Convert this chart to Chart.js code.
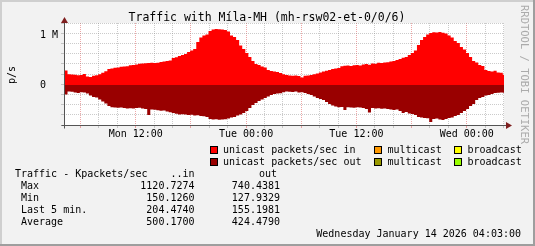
<!DOCTYPE html>
<html>
<head>
<meta charset="utf-8">
<title>Traffic with Míla-MH</title>
<script src="https://cdn.jsdelivr.net/npm/chart.js"></script>
<style>
  html, body { margin: 0; padding: 0; background: #f2f2f2; }
  canvas { display: block; }
</style>
</head>
<body>
<canvas id="traffic" width="535" height="246"></canvas>
<script>
const chartTitle = 'Traffic with Míla-MH (mh-rsw02-et-0/0/6)';

// time axis, in hours counted from Mon 00:00
const axisStart = 4.2;
const axisEnd = 52.05;
const firstSample = 4.25;
const sampleHours = 1 / 3;
const labelHours = [12, 24, 36, 48];
const labelTexts = ['Mon 12:00', 'Tue 00:00', 'Tue 12:00', 'Wed 00:00'];

// y axis, Kpackets/sec
const yLabelValues = [0, 1000];
const yLabelTexts = ['0  ', '1 M'];

// unicast packets/sec in, 20 min samples (Kpackets/sec)
const inRate = [
  290, 215, 210, 205, 195, 200, 220, 170, 160, 185,
  195, 215, 245, 275, 320, 330, 345, 350, 365, 370,
  375, 395, 400, 410, 425, 430, 435, 440, 445, 440,
  445, 460, 470, 480, 490, 540, 555, 580, 600, 620,
  660, 690, 720, 860, 950, 990, 1010, 1080, 1110, 1120,
  1115, 1110, 1100, 1070, 990, 960, 900, 790, 720, 640,
  560, 480, 420, 400, 370, 350, 300, 280, 270, 260,
  240, 215, 200, 190, 185, 190, 180, 152, 185, 190,
  200, 215, 230, 250, 270, 285, 300, 320, 330, 340,
  375, 385, 390, 380, 395, 400, 390, 410, 420, 405,
  430, 425, 445, 440, 450, 455, 470, 480, 500, 520,
  545, 560, 600, 640, 690, 800, 900, 960, 1010, 1040,
  1055, 1050, 1060, 1045, 1030, 990, 950, 880, 840, 760,
  710, 640, 560, 480, 450, 400, 380, 300, 280, 270,
  285, 250, 245, 205
];

// unicast packets/sec out, drawn below zero
const outRate = [
  -190, -130, -135, -150, -160, -145, -150, -170, -210, -240,
  -250, -290, -330, -370, -420, -445, -450, -455, -450, -460,
  -470, -465, -470, -460, -455, -470, -480, -600, -490, -495,
  -505, -515, -510, -530, -545, -560, -575, -590, -585, -590,
  -600, -595, -610, -605, -620, -625, -640, -680, -690, -685,
  -695, -690, -685, -670, -650, -640, -610, -590, -560, -520,
  -460, -400, -360, -320, -290, -260, -230, -200, -180, -170,
  -165, -145, -130, -135, -140, -130, -150, -145, -160, -180,
  -200, -230, -260, -280, -300, -340, -380, -410, -430, -445,
  -440, -500, -445, -450, -455, -445, -450, -460, -480, -550,
  -460, -470, -465, -475, -470, -480, -490, -500, -490, -520,
  -560, -540, -570, -580, -600, -640, -650, -660, -665, -740,
  -680, -670, -690, -700, -680, -660, -650, -620, -600, -560,
  -520, -480, -420, -380, -300, -260, -240, -210, -200, -180,
  -160, -155, -150, -155
];

const legendNames = ['unicast packets/sec in', 'multicast', 'broadcast',
                     'unicast packets/sec out', 'multicast', 'broadcast'];
const legendColors = ['#ff0000', '#ff9900', '#ffff00', '#990000', '#999900', '#99ff00'];

const statHeader = ['Traffic - Kpackets/sec', '..in', 'out'];
const statRows = ['Max', 'Min', 'Last 5 min.', 'Average'];
const statIn = ['1120.7274', '150.1260', '204.4740', '500.1700'];
const statOut = ['740.4381', '127.9329', '155.1981', '424.4790'];
const lastUpdate = 'Wednesday January 14 2026 04:03:00';

const mono = '"DejaVu Sans Mono", monospace';
const minorGrid = 'rgba(140, 140, 140, 0.45)';
const majorGrid = 'rgba(222, 79, 79, 0.5)';

// each sample holds its value until the next one (stepped), plus a closing point
function toPoints(values) {
  const pts = values.map((v, i) => ({ x: firstSample + i * sampleHours, y: v }));
  pts.push({ x: firstSample + values.length * sampleHours, y: values[values.length - 1] });
  return pts;
}

const rrdLook = {
  id: 'rrdLook',
  beforeDraw(chart) {
    const { ctx, chartArea: a, width, height } = chart;
    ctx.save();
    ctx.fillStyle = '#f2f2f2';
    ctx.fillRect(0, 0, width, height);
    ctx.fillStyle = '#cfcfcf';
    ctx.fillRect(0, 0, width, 2);
    ctx.fillRect(0, 0, 2, height);
    ctx.fillStyle = '#9e9e9e';
    ctx.fillRect(0, height - 2, width, 2);
    ctx.fillRect(width - 2, 0, 2, height);
    ctx.fillStyle = '#ffffff';
    ctx.fillRect(a.left, a.top, a.right - a.left, a.bottom - a.top);
    ctx.restore();
  },
  afterDatasetsDraw(chart) {
    const { ctx, chartArea: a } = chart;
    const x0 = Math.floor(a.left) + 0.5;
    const y0 = Math.floor(a.bottom) + 0.5;
    ctx.save();
    ctx.strokeStyle = '#555555';
    ctx.lineWidth = 1;
    ctx.beginPath();
    ctx.moveTo(x0, y0 + 3);
    ctx.lineTo(x0, a.top - 4);
    ctx.moveTo(x0 - 3, y0);
    ctx.lineTo(a.right + 4, y0);
    ctx.stroke();
    // arrow heads
    ctx.fillStyle = '#7f1f1f';
    ctx.beginPath();
    ctx.moveTo(x0 - 3.5, a.top);
    ctx.lineTo(x0 + 3.5, a.top);
    ctx.lineTo(x0, a.top - 6);
    ctx.closePath();
    ctx.fill();
    ctx.beginPath();
    ctx.moveTo(a.right + 2, y0 - 3.5);
    ctx.lineTo(a.right + 2, y0 + 3.5);
    ctx.lineTo(a.right + 8, y0);
    ctx.closePath();
    ctx.fill();
    ctx.restore();
  },
  afterDraw(chart) {
    const { ctx } = chart;
    const yScale = chart.scales.y;
    ctx.save();
    ctx.fillStyle = '#000000';

    // y labels, placed with the y scale
    ctx.font = '10px ' + mono;
    ctx.textAlign = 'left';
    ctx.textBaseline = 'middle';
    for (let i = 0; i < yLabelValues.length; i++) {
      ctx.fillText(yLabelTexts[i], 40, yScale.getPixelForValue(yLabelValues[i]));
    }

    ctx.textBaseline = 'alphabetic';
    ctx.font = '11.5px ' + mono;
    ctx.textAlign = 'center';
    ctx.fillText(chartTitle, 267, 21);

    // unit label on the left
    ctx.font = '10px ' + mono;
    ctx.save();
    ctx.translate(12.5, 75);
    ctx.rotate(-Math.PI / 2);
    ctx.textBaseline = 'middle';
    ctx.fillText('p/s', 0, 0);
    ctx.restore();

    // legend, two rows of three
    const boxX = [210, 374, 454];
    const textX = [223, 387.5, 467.5];
    ctx.textAlign = 'left';
    for (let i = 0; i < legendNames.length; i++) {
      const col = i % 3;
      const base = 153 + Math.floor(i / 3) * 12;
      ctx.fillStyle = '#000000';
      ctx.fillRect(boxX[col], base - 7, 8, 8);
      ctx.fillStyle = legendColors[i];
      ctx.fillRect(boxX[col] + 1, base - 6, 6, 6);
      ctx.fillStyle = '#000000';
      ctx.fillText(legendNames[i], textX[col], base);
    }

    // stats table
    ctx.fillText(statHeader[0], 15, 177);
    ctx.textAlign = 'right';
    ctx.fillText(statHeader[1], 194.5, 177);
    ctx.fillText(statHeader[2], 277, 177);
    for (let r = 0; r < statRows.length; r++) {
      const base = 189 + r * 12;
      ctx.textAlign = 'left';
      ctx.fillText(statRows[r], 21, base);
      ctx.textAlign = 'right';
      ctx.fillText(statIn[r], 194.5, base);
      ctx.fillText(statOut[r], 280, base);
    }
    ctx.fillText(lastUpdate, 521, 237);

    // watermark down the right edge
    ctx.fillStyle = '#ababab';
    ctx.font = '10.5px ' + mono;
    ctx.textAlign = 'left';
    ctx.translate(521, 5);
    ctx.rotate(Math.PI / 2);
    ctx.fillText('RRDTOOL / TOBI OETIKER', 0, 0);
    ctx.restore();
  }
};

function gridColor(ctx, every) {
  if (!ctx.tick) return minorGrid;
  return ctx.tick.value % every === 0 ? majorGrid : minorGrid;
}

const chart = new Chart(document.getElementById('traffic'), {
  type: 'line',
  data: {
    datasets: [
      {
        label: legendNames[0],
        data: toPoints(inRate),
        stepped: true,
        fill: 'origin',
        backgroundColor: legendColors[0],
        borderColor: 'rgba(0,0,0,0)',
        borderWidth: 0,
        pointRadius: 0
      },
      {
        label: legendNames[3],
        data: toPoints(outRate),
        stepped: true,
        fill: 'origin',
        backgroundColor: legendColors[3],
        borderColor: 'rgba(0,0,0,0)',
        borderWidth: 0,
        pointRadius: 0
      }
    ]
  },
  options: {
    responsive: false,
    animation: false,
    events: [],
    layout: { padding: { left: 0, top: 23, right: 31, bottom: 101 } },
    plugins: {
      legend: { display: false },
      title: { display: false },
      tooltip: { enabled: false }
    },
    scales: {
      x: {
        type: 'linear',
        min: axisStart,
        max: axisEnd,
        afterFit: (s) => { s.height = 20; },
        border: { display: false, dash: [1, 1] },
        grid: {
          color: (c) => gridColor(c, 6),
          tickColor: (c) => gridColor(c, 6),
          tickLength: 3
        },
        ticks: {
          stepSize: 2,
          includeBounds: false,
          autoSkip: false,
          maxRotation: 0,
          minRotation: 0,
          padding: 0,
          color: '#000000',
          font: { family: mono, size: 10 },
          callback: (v) => {
            const k = labelHours.indexOf(v);
            return k >= 0 ? labelTexts[k] : '';
          }
        }
      },
      y: {
        min: -800,
        max: 1240,
        afterFit: (s) => { s.width = 64; },
        border: { display: false, dash: [1, 1] },
        grid: {
          color: (c) => (c.tick && yLabelValues.includes(c.tick.value) ? majorGrid : minorGrid),
          tickColor: (c) => (c.tick && yLabelValues.includes(c.tick.value) ? majorGrid : minorGrid),
          tickLength: 3
        },
        ticks: {
          stepSize: 200,
          includeBounds: false,
          autoSkip: false,
          display: false
        }
      }
    }
  },
  plugins: [rrdLook]
});
</script>
</body>
</html>
